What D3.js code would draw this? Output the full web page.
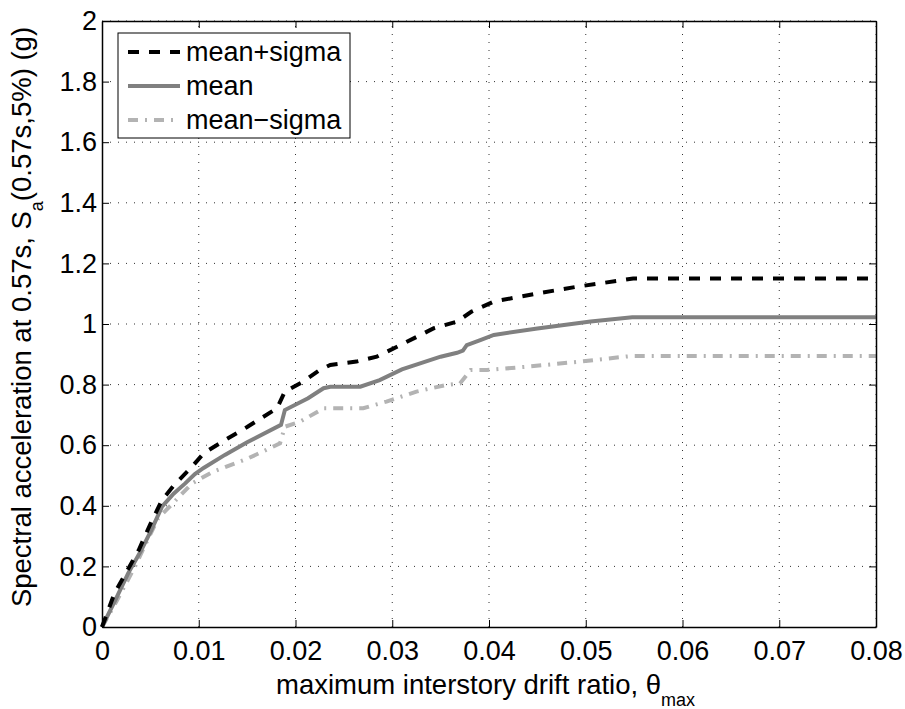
<!DOCTYPE html>
<html>
<head>
<meta charset="utf-8">
<script src="https://cdn.jsdelivr.net/npm/d3@7"></script>
<style>
  body { margin: 0; background: #fff; }
  text { font-family: "Liberation Sans", Arial, sans-serif; fill: #000; }
</style>
</head>
<body>
<script>
// Curves (drift ratio vs Sa)
var driftPlus = [0, 0.0013, 0.0025, 0.0038, 0.005, 0.0062, 0.0075, 0.0093, 0.0105, 0.0127, 0.015, 0.0181, 0.0189, 0.0208, 0.0225, 0.0236, 0.0263, 0.0284, 0.0305, 0.0343, 0.0367, 0.0382, 0.0405, 0.045, 0.0491, 0.0549, 0.08];
var saPlus = [0, 0.112, 0.18, 0.254, 0.34, 0.419, 0.47, 0.529, 0.573, 0.617, 0.66, 0.722, 0.777, 0.81, 0.848, 0.865, 0.876, 0.892, 0.925, 0.986, 1.008, 1.041, 1.074, 1.101, 1.123, 1.15, 1.15];

var driftMean = [0, 0.0014, 0.0027, 0.004, 0.0051, 0.0062, 0.0074, 0.0086, 0.0096, 0.0105, 0.0127, 0.015, 0.0185, 0.0189, 0.0213, 0.0229, 0.0236, 0.0267, 0.0287, 0.031, 0.035, 0.0367, 0.0373, 0.0377, 0.0391, 0.0405, 0.045, 0.0505, 0.0548, 0.08];
var saMean = [0, 0.09, 0.177, 0.25, 0.32, 0.397, 0.44, 0.474, 0.505, 0.525, 0.568, 0.61, 0.667, 0.716, 0.755, 0.788, 0.793, 0.793, 0.815, 0.85, 0.892, 0.905, 0.912, 0.93, 0.947, 0.964, 0.985, 1.008, 1.022, 1.022];

var driftMinus = [0, 0.0015, 0.0034, 0.0046, 0.0058, 0.0075, 0.0093, 0.0115, 0.015, 0.0184, 0.0189, 0.0205, 0.0229, 0.027, 0.0294, 0.0325, 0.0356, 0.037, 0.0381, 0.0398, 0.0439, 0.0494, 0.0546, 0.08];
var saMinus = [0, 0.085, 0.199, 0.28, 0.359, 0.414, 0.474, 0.513, 0.555, 0.606, 0.661, 0.678, 0.722, 0.722, 0.744, 0.777, 0.799, 0.804, 0.848, 0.848, 0.859, 0.876, 0.894, 0.894];

var seriesNames = ["mean+sigma", "mean", "mean\u2212sigma"];
var xTicks = [0, 0.01, 0.02, 0.03, 0.04, 0.05, 0.06, 0.07, 0.08];
var yTicks = [0, 0.2, 0.4, 0.6, 0.8, 1, 1.2, 1.4, 1.6, 1.8, 2];

var width = 905;
var height = 709;
// plot box (note: "top" is reserved on window, so use plotTop)
var plotLeft = 102, plotRight = 876, plotTop = 21, plotBottom = 627;
var tickFont = 27;
var labelFont = 27.5;

var svg = d3.select("body").append("svg")
  .attr("width", width)
  .attr("height", height);

var xScale = d3.scaleLinear().domain([0, 0.08]).range([plotLeft, plotRight]);
var yScale = d3.scaleLinear().domain([0, 2]).range([plotBottom, plotTop]);

// Dotted grid
svg.append("g").selectAll("line")
  .data(xTicks.slice(1))
  .enter().append("line")
  .attr("x1", function(d) { return xScale(d); })
  .attr("x2", function(d) { return xScale(d); })
  .attr("y1", plotBottom).attr("y2", plotTop)
  .style("stroke", "#333").style("stroke-width", 1)
  .style("stroke-dasharray", "1,7");

svg.append("g").selectAll("line")
  .data(yTicks.slice(1))
  .enter().append("line")
  .attr("y1", function(d) { return yScale(d); })
  .attr("y2", function(d) { return yScale(d); })
  .attr("x1", plotLeft).attr("x2", plotRight)
  .style("stroke", "#333").style("stroke-width", 1)
  .style("stroke-dasharray", "1,7");

// Curves
var line = d3.line()
  .x(function(d) { return xScale(d[0]); })
  .y(function(d) { return yScale(d[1]); });

var series = [
  { pts: d3.zip(driftMinus, saMinus), color: "#b3b3b3", dash: "10,7,2,7" },
  { pts: d3.zip(driftMean, saMean), color: "#808080", dash: null },
  { pts: d3.zip(driftPlus, saPlus), color: "#000", dash: "11,10" }
];

series.forEach(function(s) {
  svg.append("path")
    .attr("d", line(s.pts))
    .style("fill", "none")
    .style("stroke", s.color)
    .style("stroke-width", 4)
    .style("stroke-dasharray", s.dash);
});

// Axes with inner ticks, box on
var xAxis = d3.axisBottom(xScale).tickValues(xTicks).tickSizeInner(-7).tickSizeOuter(0)
  .tickPadding(14).tickFormat(function(d) { return d === 0 ? "0" : d3.format(".2f")(d); });
var yAxis = d3.axisLeft(yScale).tickValues(yTicks).tickSizeInner(-7).tickSizeOuter(0)
  .tickPadding(5).tickFormat(function(d) { return d3.format("")(+d.toFixed(1)); });

svg.append("g").attr("transform", "translate(0," + plotBottom + ")").call(xAxis);
svg.append("g").attr("transform", "translate(" + plotLeft + ",0)").call(yAxis);

svg.append("g").attr("transform", "translate(0," + plotTop + ")")
  .call(d3.axisTop(xScale).tickValues(xTicks).tickSizeInner(-7).tickSizeOuter(0).tickFormat(""));
svg.append("g").attr("transform", "translate(" + plotRight + ",0)")
  .call(d3.axisRight(yScale).tickValues(yTicks).tickSizeInner(-7).tickSizeOuter(0).tickFormat(""));

svg.selectAll(".domain").style("stroke", "#000").style("stroke-width", 1.5);
svg.selectAll(".tick line").style("stroke", "#000");
svg.selectAll(".tick text").style("font-size", tickFont + "px")
  .style("font-family", "'Liberation Sans', Arial, sans-serif");

// Axis labels
var xl = svg.append("text")
  .attr("x", 276)
  .attr("y", 694)
  .style("font-size", labelFont + "px");
xl.append("tspan").text("maximum interstory drift ratio, \u03b8");
xl.append("tspan").attr("dy", 12).style("font-size", "18px").text("max");

var yl = svg.append("text")
  .attr("transform", "translate(31,317) rotate(-90)")
  .attr("text-anchor", "middle")
  .style("font-size", labelFont + "px");
yl.append("tspan").text("Spectral acceleration at 0.57s, S");
yl.append("tspan").attr("dy", 12).style("font-size", "18px").text("a");
yl.append("tspan").attr("dy", -12).text("(0.57s,5%) (g)");

// Legend
var legend = svg.append("g");
legend.append("rect")
  .attr("x", 118).attr("y", 33)
  .attr("width", 232).attr("height", 105)
  .style("fill", "#fff").style("stroke", "#000").style("stroke-width", 1);

var legendStyles = [series[2], series[1], series[0]];
var rows = legend.selectAll(".legend-row")
  .data(seriesNames)
  .enter().append("g")
  .attr("class", "legend-row")
  .attr("transform", function(d, i) { return "translate(0," + (52 + i * 34) + ")"; });

rows.append("line")
  .attr("x1", 128).attr("x2", 180)
  .attr("y1", 0).attr("y2", 0)
  .style("stroke", function(d, i) { return legendStyles[i].color; })
  .style("stroke-width", 4)
  .style("stroke-dasharray", function(d, i) { return legendStyles[i].dash; });

rows.append("text")
  .attr("x", 186).attr("y", 9)
  .style("font-size", "27px")
  .text(function(d) { return d; });
</script>
</body>
</html>
